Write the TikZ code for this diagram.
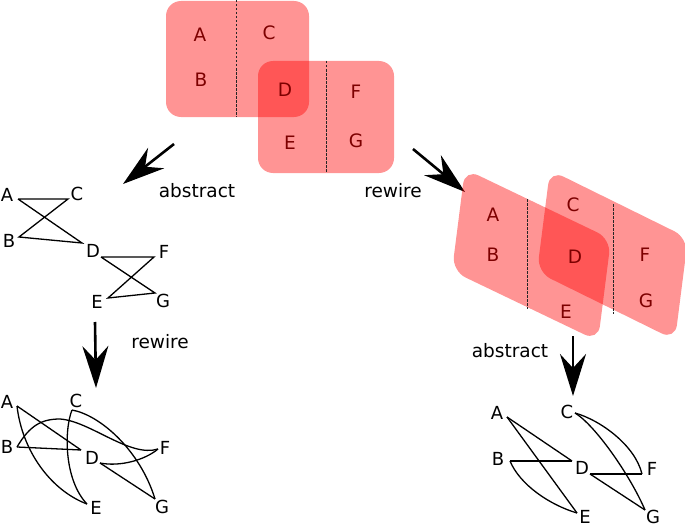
\documentclass[tikz,border=0pt]{standalone}
\usepackage{fontspec}
\setmainfont{DejaVu Sans}
\usetikzlibrary{arrows.meta}
\definecolor{boxtext}{RGB}{125,0,0}
\begin{document}
\begin{tikzpicture}[x=1pt,y=-1pt,
  blob/.style={fill=red, fill opacity=0.42, rounded corners=15pt},
  divider/.style={line width=0.9pt, dash pattern=on 2.5pt off 1.5pt, color=black!85},
  boxlbl/.style={text=boxtext, font=\fontsize{18.5}{18.5}\selectfont, inner sep=0pt},
  glbl/.style={font=\fontsize{18}{18}\selectfont, inner sep=0pt},
  gedge/.style={line width=1.3pt, line join=miter},
  bigarrow/.style={line width=2.6pt, -{Stealth[length=42pt 0 0,width=26pt 0 0,inset=14pt 0 0]}},
  steplbl/.style={font=\fontsize{18.5}{18.5}\selectfont, inner sep=0pt}]
\useasboundingbox (0,0) rectangle (685,527);

% ---------- top group ----------
\fill[blob] (166,1) rectangle (309,117);
\fill[blob] (258,61) rectangle (394,173);
\coordinate (t1a) at (236,0);   \coordinate (t1b) at (236,117);
\coordinate (t2a) at (326,61);  \coordinate (t2b) at (326,173);
\draw[divider] (t1a) -- (t1b);
\draw[divider] (t2a) -- (t2b);
\node[boxlbl] (tA) at (200,35) {A};
\node[boxlbl] (tC) at (269,33) {C};
\node[boxlbl] (tB) at (201,80) {B};
\node[boxlbl] (tD) at (285,90) {D};
\node[boxlbl] (tF) at (356,92) {F};
\node[boxlbl] (tE) at (290,143) {E};
\node[boxlbl] (tG) at (356,141) {G};

% ---------- arrows from top ----------
\coordinate (a1s) at (174,144); \coordinate (a1e) at (123,184);
\coordinate (a2s) at (413,149); \coordinate (a2e) at (465,192);
\coordinate (a3s) at (95,322);  \coordinate (a3e) at (96,388);
\coordinate (a4s) at (573,336); \coordinate (a4e) at (573,396);
\draw[bigarrow] (a1s) -- (a1e);
\draw[bigarrow] (a2s) -- (a2e);
\draw[bigarrow] (a3s) -- (a3e);
\draw[bigarrow] (a4s) -- (a4e);
\node[steplbl] (l1) at (197,191) {abstract};
\node[steplbl] (l2) at (393,191) {rewire};
\node[steplbl] (l3) at (160,342) {rewire};
\node[steplbl] (l4) at (510,351) {abstract};

% ---------- right tilted group ----------
\fill[blob] (465,169) -- (611,239) -- (598,341) -- (452,271) -- cycle;
\fill[blob] (550,170) -- (688,238) -- (675,340) -- (537,272) -- cycle;
\coordinate (r1a) at (527,199); \coordinate (r1b) at (527,309);
\coordinate (r2a) at (613,204); \coordinate (r2b) at (613,314);
\draw[divider] (r1a) -- (r1b);
\draw[divider] (r2a) -- (r2b);
\node[boxlbl] (rA) at (493,215) {A};
\node[boxlbl] (rB) at (493,255) {B};
\node[boxlbl] (rC) at (573,205) {C};
\node[boxlbl] (rD) at (575,257) {D};
\node[boxlbl] (rE) at (566,312) {E};
\node[boxlbl] (rF) at (645,255) {F};
\node[boxlbl] (rG) at (646,301) {G};

% ---------- top-left graph ----------
\node[glbl] (gA) at (7,195) {A};
\node[glbl] (gC) at (77,194) {C};
\node[glbl] (gB) at (9,241) {B};
\node[glbl] (gD) at (93,251) {D};
\node[glbl] (gF) at (164,252) {F};
\node[glbl] (gE) at (97,302) {E};
\node[glbl] (gG) at (163,301) {G};
\coordinate (pA) at (18,199);
\coordinate (pC) at (68,199);
\coordinate (pB) at (19,237);
\coordinate (pD) at (82,243);
\coordinate (pD2) at (101,257);
\coordinate (pF) at (154,257);
\coordinate (pE) at (108,298);
\coordinate (pG) at (155,293);
\draw[gedge] (pA) -- (pC) -- (pB) -- (pD) -- (pA);
\draw[gedge] (pD2) -- (pF) -- (pE) -- (pG) -- (pD2);

% ---------- bottom-left graph ----------
\node[glbl] (hA) at (7,402) {A};
\node[glbl] (hC) at (76,401) {C};
\node[glbl] (hB) at (7,447) {B};
\node[glbl] (hD) at (92,458) {D};
\node[glbl] (hF) at (165,448) {F};
\node[glbl] (hE) at (96,508) {E};
\node[glbl] (hG) at (162,507) {G};
\coordinate (qA) at (17,406);
\coordinate (qC) at (72,410);
\coordinate (qB) at (17,447);
\coordinate (qD) at (81,450);
\coordinate (qD2) at (100,463);
\coordinate (qF) at (158,449);
\coordinate (qE) at (87,504);
\coordinate (qG) at (155,499);
\coordinate (qBF) at (60,419);
\draw[gedge] (qA) -- (qD);
\draw[gedge] (qB) -- (qD);
\draw[gedge] (qD2) -- (qG);
\draw[gedge] (qA) .. controls (22,450) and (50,490) .. (qE);
\draw[gedge] (qC) .. controls (64,430) and (64,480) .. (qE);
\draw[gedge] (qC) .. controls (100,415) and (140,450) .. (qG);
\draw[gedge] (qB) .. controls (30,425) and (42,419) .. (qBF) .. controls (90,421) and (130,458) .. (qF);
\draw[gedge] (qD2) .. controls (120,467) and (145,460) .. (qF);

% ---------- bottom-right graph ----------
\node[glbl] (kA) at (497,413) {A};
\node[glbl] (kC) at (567,412) {C};
\node[glbl] (kB) at (498,459) {B};
\node[glbl] (kD) at (582,468) {D};
\node[glbl] (kF) at (652,469) {F};
\node[glbl] (kE) at (585,517) {E};
\node[glbl] (kG) at (653,517) {G};
\coordinate (sA) at (507,417);
\coordinate (sC) at (575,413);
\coordinate (sB) at (510,461);
\coordinate (sD) at (572,461);
\coordinate (sD2) at (590,474);
\coordinate (sF) at (642,474);
\coordinate (sE) at (577,513);
\coordinate (sG) at (645,510);
\draw[gedge] (sA) -- (sD);
\draw[gedge] (sA) -- (sE);
\draw[gedge] (sB) -- (sD);
\draw[gedge] (sD2) -- (sF);
\draw[gedge] (sD2) -- (sG);
\draw[gedge] (sB) .. controls (520,485) and (550,505) .. (sE);
\draw[gedge] (sC) .. controls (600,420) and (635,445) .. (sF);
\draw[gedge] (sC) .. controls (595,425) and (630,475) .. (sG);
\end{tikzpicture}
\end{document}
